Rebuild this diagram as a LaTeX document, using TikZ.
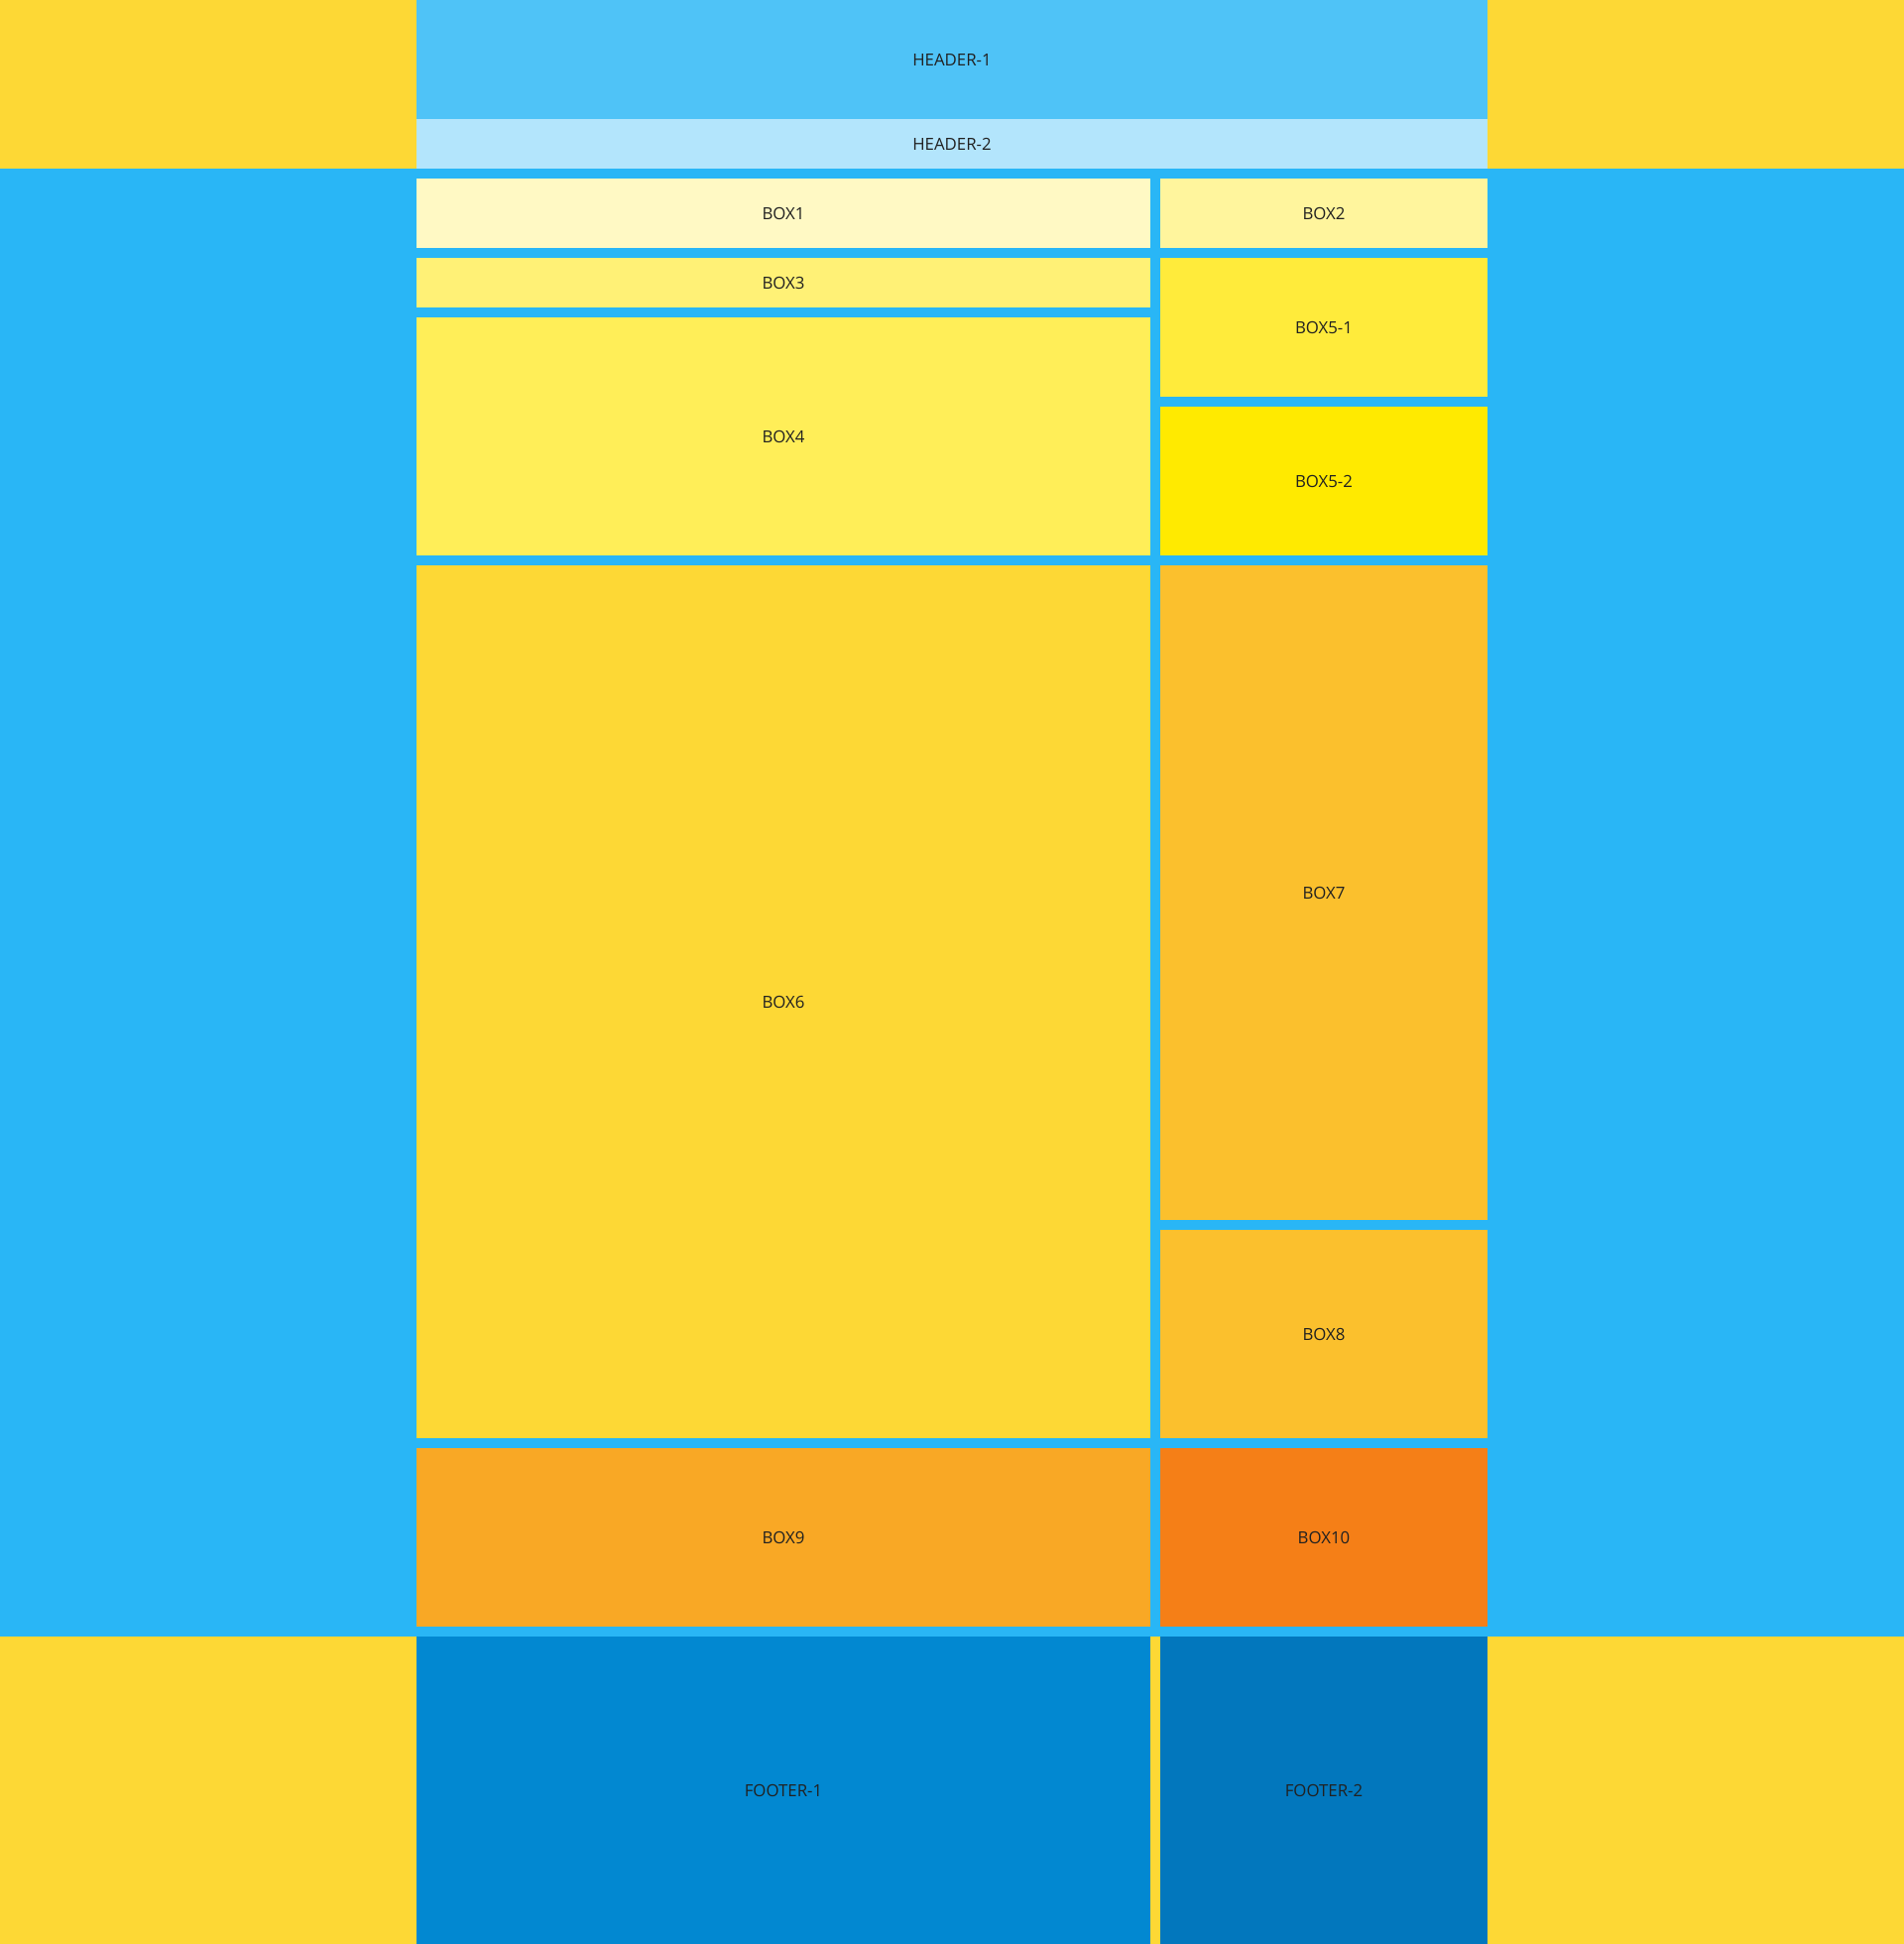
\documentclass[tikz,border=0pt]{standalone}
\usepackage{fontspec}
\setmainfont{Open Sans}
\definecolor{bgyellow}{HTML}{FDD835}
\definecolor{bgblue}{HTML}{29B6F6}
\definecolor{hone}{HTML}{4FC3F7}
\definecolor{htwo}{HTML}{B3E5FC}
\definecolor{cbox1}{HTML}{FFF9C4}
\definecolor{cbox2}{HTML}{FFF59D}
\definecolor{cbox3}{HTML}{FFF176}
\definecolor{cbox4}{HTML}{FFEE58}
\definecolor{cbox51}{HTML}{FFEB3B}
\definecolor{cbox52}{HTML}{FFEA00}
\definecolor{cbox6}{HTML}{FDD835}
\definecolor{cbox7}{HTML}{FBC02D}
\definecolor{cbox9}{HTML}{F9A825}
\definecolor{cbox10}{HTML}{F57F17}
\definecolor{foot1}{HTML}{0288D1}
\definecolor{foot2}{HTML}{0277BD}
\definecolor{txt}{HTML}{212121}
\begin{document}
\begin{tikzpicture}[x=0.5pt,y=-0.5pt,
  cell/.style={rectangle,draw=none,inner sep=0pt,outer sep=0pt,text=txt,font=\fontsize{8.4}{10}\selectfont},
  band/.style={rectangle,draw=none,inner sep=0pt,outer sep=0pt}]
\useasboundingbox (0,0) rectangle (1920,1960);
% background bands
\node[band,fill=bgyellow,minimum width=960pt,minimum height=85pt] (topband) at (960,85) {};
\node[band,fill=bgblue,minimum width=960pt,minimum height=740pt] (midband) at (960,910) {};
\node[band,fill=bgyellow,minimum width=960pt,minimum height=155pt] (botband) at (960,1805) {};
% header
\node[cell,fill=hone,minimum width=540pt,minimum height=60pt] (header1) at (960,60) {\raisebox{-0.5pt}{HEADER-1}};
\node[cell,fill=htwo,minimum width=540pt,minimum height=25pt] (header2) at (960,145) {\raisebox{-0.5pt}{HEADER-2}};
% left column
\node[cell,fill=cbox1,minimum width=370pt,minimum height=35pt] (box1) at (790,215) {\raisebox{-0.5pt}{BOX1}};
\node[cell,fill=cbox3,minimum width=370pt,minimum height=25pt] (box3) at (790,285) {\raisebox{-0.5pt}{BOX3}};
\node[cell,fill=cbox4,minimum width=370pt,minimum height=120pt] (box4) at (790,440) {\raisebox{-0.5pt}{BOX4}};
\node[cell,fill=cbox6,minimum width=370pt,minimum height=440pt] (box6) at (790,1010) {\raisebox{-0.5pt}{BOX6}};
\node[cell,fill=cbox9,minimum width=370pt,minimum height=90pt] (box9) at (790,1550) {\raisebox{-0.5pt}{BOX9}};
% right column
\node[cell,fill=cbox2,minimum width=165pt,minimum height=35pt] (box2) at (1335,215) {\raisebox{-0.5pt}{BOX2}};
\node[cell,fill=cbox51,minimum width=165pt,minimum height=70pt] (box51) at (1335,330) {\raisebox{-0.5pt}{BOX5-1}};
\node[cell,fill=cbox52,minimum width=165pt,minimum height=75pt] (box52) at (1335,485) {\raisebox{-0.5pt}{BOX5-2}};
\node[cell,fill=cbox7,minimum width=165pt,minimum height=330pt] (box7) at (1335,900) {\raisebox{-2.5pt}{BOX7}};
\node[cell,fill=cbox7,minimum width=165pt,minimum height=105pt] (box8) at (1335,1345) {\raisebox{-0.5pt}{BOX8}};
\node[cell,fill=cbox10,minimum width=165pt,minimum height=90pt] (box10) at (1335,1550) {\raisebox{-0.5pt}{BOX10}};
% footer
\node[cell,fill=foot1,minimum width=370pt,minimum height=155pt] (footer1) at (790,1805) {\raisebox{-0.5pt}{FOOTER-1}};
\node[cell,fill=foot2,minimum width=165pt,minimum height=155pt] (footer2) at (1335,1805) {\raisebox{-0.5pt}{FOOTER-2}};
\end{tikzpicture}
\end{document}
